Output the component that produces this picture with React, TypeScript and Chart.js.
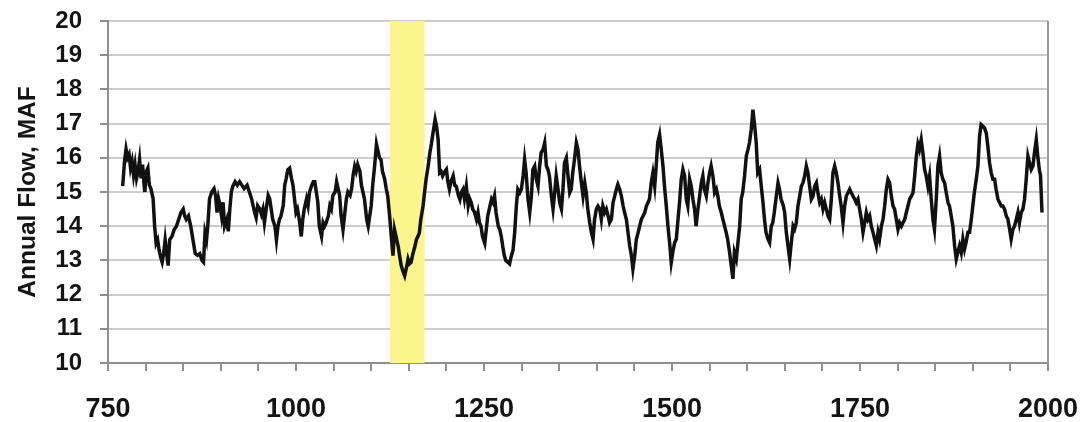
import React, { useEffect, useRef } from 'react';
import { Chart, registerables } from 'chart.js';

Chart.register(...registerables);

// Years (x) and annual flow in million acre-feet (y)
const YEARS: number[] = [
  769.5, 772, 774, 776, 778, 780, 782, 784, 786, 788, 790, 792, 794, 796, 798, 799, 801, 803, 805, 807,
  810, 812, 814, 816, 818, 820, 822, 824, 826, 828, 830, 832, 835, 838, 841, 844, 847, 850, 852, 854,
  857, 860, 863, 866, 869, 872, 875, 877, 879, 881, 883, 885, 888, 891, 893, 895, 897, 899, 901, 903,
  905, 908, 910, 912, 914, 916, 919, 922, 925, 928,
  931, 935, 938, 941, 945, 947, 949, 952, 954, 956, 958, 961, 963, 965, 967, 969, 972, 974, 976, 978,
  980, 983, 985, 987, 989, 991.5, 994, 996, 998, 1000, 1002, 1005, 1007, 1009, 1011, 1014, 1016, 1018, 1021, 1023,
  1025, 1027, 1029, 1031, 1034, 1036, 1038, 1040, 1043, 1045, 1047, 1049, 1052, 1054, 1056, 1058, 1060, 1062.5, 1065, 1067,
  1069, 1072, 1074, 1076, 1078, 1080, 1082, 1085, 1087, 1089, 1091, 1094, 1096, 1098, 1100, 1102, 1104.5, 1107,
  1109, 1111, 1113, 1115, 1118, 1120, 1122, 1124.5, 1127, 1129, 1131, 1134, 1136, 1138, 1140, 1142, 1144.5, 1147, 1149, 1151,
  1153, 1155.5, 1158, 1160, 1162, 1164, 1166, 1169, 1171, 1173, 1176, 1178, 1180, 1182, 1185, 1187, 1189, 1191, 1193, 1195,
  1198, 1200, 1202, 1204, 1206, 1209, 1211, 1213, 1216, 1218, 1220, 1222, 1224, 1226.5, 1229, 1231, 1233, 1235, 1237.5, 1240,
  1242, 1244, 1246, 1248, 1251, 1253, 1255, 1258, 1260, 1262, 1264, 1266, 1269, 1271, 1273, 1275, 1277, 1279, 1282, 1284, 1286,
  1288.6, 1290.8, 1293, 1295, 1297.5, 1299.7, 1302, 1304, 1306, 1308.5, 1310.8, 1313, 1315, 1317.4, 1319.6, 1321.8, 1324, 1326, 1328.5, 1330.7,
  1333, 1335, 1337, 1339.6, 1341.8, 1344, 1346, 1348.4, 1350.7, 1353, 1355, 1357, 1359.5, 1361.7, 1364, 1366, 1368, 1370.6, 1372.8, 1375,
  1377, 1379.5, 1381.7, 1384, 1386, 1388, 1390.6, 1392.8, 1395, 1397, 1399.4, 1401.6, 1403.9, 1406, 1408, 1410.5, 1412.7, 1415, 1417, 1419.4,
  1421.6, 1423.8, 1426, 1428, 1430.4, 1432.7, 1435, 1437, 1439.3, 1441.5, 1443.7, 1446, 1448, 1450.4, 1452.6, 1455, 1457, 1459.3, 1461.5, 1463.7, 1466,
  1470, 1472.4, 1474.6, 1477, 1479, 1481, 1483.5, 1485.7, 1488, 1490, 1492.4, 1494.6, 1496.8, 1499, 1501, 1503.5, 1505.7, 1508, 1510, 1512.3,
  1514.5, 1516.8, 1519, 1521, 1523.4, 1525.6, 1527.8, 1530, 1532, 1534.5, 1536.7, 1539, 1541, 1543, 1545.6, 1547.8, 1550, 1552, 1554.4, 1556.7,
  1559, 1561, 1563, 1565.5, 1567.7, 1570, 1572, 1574, 1576.6, 1578.8, 1581, 1583, 1585.5, 1587.7, 1590, 1592, 1594, 1596.5, 1598.8, 1601,
  1603, 1605.4, 1607.6, 1610, 1612, 1614, 1616.5, 1618.7, 1621, 1623, 1625, 1627.6, 1629.8, 1632, 1634, 1636, 1638.7, 1641, 1643, 1645,
  1648, 1649.8, 1652, 1654.2, 1656.5, 1658.7, 1661, 1663, 1665.3, 1667.5, 1669.8, 1672, 1674.2, 1676.4, 1678.6, 1680.8, 1683, 1685.3, 1687.5, 1689.7,
  1692, 1694, 1696.4, 1698.6, 1700.8, 1703, 1705.2, 1707.4, 1709.7, 1711.9, 1714, 1716.3, 1718.5, 1720.7, 1723, 1725, 1727.4, 1729.6, 1731.8, 1734,
  1736.3, 1738.5, 1740.7, 1743, 1745, 1747.3, 1749.5, 1751.8, 1754, 1756.2, 1758.4, 1760.6, 1762.9, 1765, 1767.3, 1769.5, 1771.7, 1774, 1776, 1778.4,
  1780.6, 1782.8, 1785, 1787.2, 1789.4, 1791.7, 1793.9, 1796, 1798.3, 1800.5, 1802.7, 1805, 1807.2, 1809.4, 1811.6, 1813.8, 1816, 1818.3, 1820.5, 1822.7, 1824.9,
  1827, 1829, 1831.4, 1833.6, 1835.9, 1838, 1840.3, 1842.5, 1844.7, 1847, 1849, 1851.4, 1853.6, 1855.8, 1858, 1860.2, 1862.5, 1864.7, 1867, 1869,
  1871.3, 1873.5, 1875.8, 1878, 1880, 1882.4, 1884.6, 1886.8, 1889, 1891, 1893.5, 1895.7, 1898, 1900, 1902, 1904.6, 1906.8, 1909, 1911, 1913.4,
  1915.6, 1917.9, 1920, 1922.3, 1924.5, 1926.7, 1929, 1931, 1933.4, 1935.6, 1937.8, 1940, 1942.2, 1944.5, 1946.7, 1949, 1951, 1953.3, 1955.5, 1957.8,
  1960, 1962, 1964.4, 1966.6, 1968.8, 1971, 1973.3, 1975.5, 1977.7, 1980, 1982, 1984.4, 1986.6, 1988.8, 1990, 1992,
];

const FLOW: number[] = [
  15.17, 15.9, 16.25, 16.0, 16.1, 15.7, 15.9, 15.5, 15.8, 15.4, 15.6, 15.95, 15.4, 15.8, 15.2, 15.0, 15.6, 15.7, 15.2, 15.1,
  14.8, 14.0, 13.5, 13.6, 13.3, 13.1, 12.95, 13.2, 13.6, 13.2, 12.85, 13.6, 13.7, 13.9, 14.0, 14.2, 14.4, 14.5, 14.3, 14.2,
  14.3, 14.0, 13.6, 13.2, 13.15, 13.2, 13.0, 12.95, 13.8, 13.6, 14.1, 14.8, 15.0, 15.1, 14.9, 14.4, 14.8, 14.6, 14.3, 14.7,
  14.0, 14.2, 13.85, 14.5, 15.0, 15.17, 15.3, 15.2, 15.3, 15.2,
  15.1, 15.2, 15.0, 14.8, 14.4, 14.25, 14.6, 14.5, 14.35, 14.5, 14.1, 14.6, 14.9, 14.8, 14.5, 14.2, 14.0, 13.6, 14.0, 14.2,
  14.3, 14.6, 15.2, 15.4, 15.65, 15.7, 15.4, 15.2, 14.8, 14.4, 14.5, 14.1, 13.7, 14.2, 14.5, 14.8, 14.6, 15.0, 15.2, 15.3,
  15.3, 15.0, 14.7, 14.0, 13.7, 14.1, 14.0, 14.1, 14.3, 14.6, 14.5, 14.9, 15.0, 15.3, 15.1, 14.9, 14.3, 13.9, 14.4, 14.8,
  15.0, 14.9, 15.1, 15.5, 15.75, 15.6, 15.8, 15.6, 15.2, 15.0, 14.8, 14.2, 14.0, 14.3, 14.6, 15.2, 15.75, 16.4,
  16.2, 16.0, 15.95, 15.6, 15.37, 15.1, 14.88, 14.3, 13.62, 13.14, 13.9, 13.6, 13.4, 13.1, 12.84, 12.7, 12.55, 12.8, 13.04, 12.9,
  12.94, 13.2, 13.4, 13.6, 13.7, 13.8, 14.2, 14.6, 15.0, 15.37, 15.8, 16.15, 16.4, 16.7, 17.12, 16.9, 16.53, 15.56, 15.6, 15.47,
  15.6, 15.66, 15.3, 15.08, 15.3, 15.47, 15.2, 15.17, 14.9, 14.78, 15.0, 15.08, 14.8, 15.17, 14.59, 14.8, 14.69, 14.5, 14.4, 14.2,
  14.4, 14.1, 14.0, 13.7, 13.5, 13.9, 14.3, 14.6, 14.79, 14.7, 14.88, 14.4, 14.0, 13.9, 13.7, 13.4, 13.14, 13.0, 12.94, 12.9, 13.1,
  13.3, 13.82, 14.59, 15.08, 14.98, 15.08, 15.47, 15.95, 15.56, 14.79, 14.4, 14.88, 15.66, 15.76, 15.37, 15.17, 15.76, 16.15, 16.24, 16.44,
  15.76, 15.66, 15.47, 14.88, 14.5, 14.98, 15.47, 15.08, 14.69, 14.5, 15.08, 15.85, 16.0, 15.47, 14.98, 15.08, 15.56, 16.0, 16.44, 16.24,
  15.76, 15.27, 14.88, 15.27, 14.98, 14.5, 14.1, 13.82, 13.62, 14.2, 14.5, 14.59, 14.5, 14.2, 14.59, 14.4, 14.5, 14.3, 14.1, 14.2,
  14.69, 14.88, 15.08, 15.22, 15.08, 14.88, 14.59, 14.4, 14.2, 13.82, 13.43, 13.14, 12.75, 13.14, 13.62, 13.82, 14.0, 14.2, 14.3, 14.4, 14.59,
  14.79, 15.27, 15.56, 15.17, 15.76, 16.44, 16.68, 16.24, 15.76, 15.17, 14.59, 14.0, 13.52, 12.94, 13.23, 13.52, 13.62, 14.2, 14.69, 15.37,
  15.66, 15.47, 14.79, 14.59, 15.37, 15.17, 14.79, 14.5, 14.0, 14.5, 14.88, 15.27, 15.47, 15.08, 14.88, 15.27, 15.56, 15.76, 15.47, 14.98,
  15.08, 14.88, 14.59, 14.4, 14.2, 14.0, 13.82, 13.62, 13.23, 12.84, 12.46, 13.23, 13.04, 13.52, 14.0, 14.79, 14.98, 15.47, 16.05, 16.24,
  16.44, 16.83, 17.41, 16.92, 16.44, 15.56, 15.66, 15.17, 14.69, 14.2, 13.82, 13.62, 13.52, 14.0, 14.1, 14.4, 14.88, 15.27, 15.08, 14.79,
  14.6, 14.4, 13.82, 13.43, 13.04, 13.52, 14.0, 13.91, 14.1, 14.59, 14.88, 15.17, 15.27, 15.47, 15.76, 15.56, 15.17, 14.79, 14.88, 15.17,
  15.27, 14.98, 14.69, 14.79, 14.5, 14.69, 14.5, 14.3, 14.2, 14.79, 15.56, 15.76, 15.56, 15.27, 14.88, 14.59, 14.1, 14.59, 14.88, 14.98,
  15.08, 14.98, 14.88, 14.79, 14.69, 14.79, 14.5, 14.2, 13.82, 14.1, 14.4, 14.2, 14.3, 14.0, 13.82, 13.62, 13.43, 13.82, 13.62, 14.0,
  14.2, 14.59, 15.08, 15.37, 15.27, 14.88, 14.59, 14.5, 14.2, 13.91, 14.1, 14.0, 14.1, 14.2, 14.4, 14.59, 14.79, 14.88, 14.98, 15.47, 16.05,
  16.4, 16.24, 16.53, 16.15, 15.66, 15.47, 15.17, 15.47, 14.79, 14.2, 13.91, 14.79, 15.76, 16.05, 15.56, 15.37, 15.27, 14.98, 14.69, 14.59,
  14.3, 14.0, 13.43, 13.04, 13.23, 13.43, 13.23, 13.62, 13.33, 13.52, 13.82, 13.82, 14.2, 14.59, 14.98, 15.37, 15.76, 16.63, 16.97, 16.92,
  16.87, 16.73, 16.34, 15.85, 15.56, 15.37, 15.37, 15.08, 14.79, 14.69, 14.59, 14.59, 14.5, 14.3, 14.2, 13.91, 13.62, 13.91, 14.0, 14.2,
  14.4, 14.1, 14.4, 14.5, 14.79, 15.37, 16.05, 15.85, 15.66, 15.76, 16.15, 16.53, 16.0, 15.6, 15.5, 14.4,
];

const X_MIN = 750;
const X_MAX = 2000;
const X_LABEL_STEP = 250;
const X_TICK_STEP = 50;
const Y_MIN = 10;
const Y_MAX = 20;
const Y_TITLE = 'Annual Flow, MAF';
const BAND_START = 1125;
const BAND_END = 1171;

const FONT = '"Liberation Sans", Arial, Helvetica, sans-serif';

function zeroPadding(s: any) {
  s.paddingTop = 0;
  s.paddingBottom = 0;
  s.paddingLeft = 0;
  s.paddingRight = 0;
}

export default function App() {
  const canvasRef = useRef<HTMLCanvasElement | null>(null);

  useEffect(() => {
    const canvas = canvasRef.current;
    if (!canvas) return;

    const bandPlugin = {
      id: 'droughtBand',
      beforeDatasetsDraw(chart: any) {
        const { ctx, chartArea, scales } = chart;
        const x0 = scales.x.getPixelForValue(BAND_START);
        const x1 = scales.x.getPixelForValue(BAND_END);
        ctx.save();
        ctx.fillStyle = '#fcf48c';
        ctx.fillRect(x0, chartArea.top, x1 - x0, chartArea.bottom - chartArea.top);
        ctx.restore();
      },
    };

    const framePlugin = {
      id: 'rightFrame',
      beforeDatasetsDraw(chart: any) {
        const { ctx, chartArea } = chart;
        ctx.save();
        ctx.strokeStyle = '#9a9a9a';
        ctx.lineWidth = 2;
        ctx.beginPath();
        ctx.moveTo(chartArea.right, chartArea.top);
        ctx.lineTo(chartArea.right, chartArea.bottom);
        ctx.stroke();
        ctx.restore();
      },
    };

    const points = YEARS.map((x, i) => ({ x, y: FLOW[i] }));

    const chart = new Chart(canvas, {
      type: 'line',
      data: {
        datasets: [
          {
            data: points,
            borderColor: '#111111',
            borderWidth: 3.5,
            pointRadius: 0,
            tension: 0,
            fill: false,
            borderJoinStyle: 'miter',
          },
        ],
      },
      options: {
        animation: false,
        responsive: false,
        maintainAspectRatio: false,
        layout: { padding: { top: 21, right: 34, left: 0, bottom: 0 } },
        plugins: {
          legend: { display: false },
          tooltip: { enabled: false },
        },
        scales: {
          x: {
            type: 'linear',
            min: X_MIN,
            max: X_MAX,
            afterFit: (s: any) => {
              s.height = 59;
              zeroPadding(s);
            },
            ticks: {
              stepSize: X_TICK_STEP,
              autoSkip: false,
              maxRotation: 0,
              minRotation: 0,
              padding: 22,
              color: '#141414',
              font: { family: FONT, size: 27, weight: 'bold' },
              callback: (v: any) => (Number(v) % X_LABEL_STEP === 0 ? String(v) : ''),
            },
            grid: {
              drawOnChartArea: false,
              drawTicks: true,
              tickLength: 8,
              color: '#8f8f8f',
              lineWidth: 2,
            },
            border: { display: true, color: '#8f8f8f', width: 2 },
          },
          y: {
            type: 'linear',
            min: Y_MIN,
            max: Y_MAX,
            afterFit: (s: any) => {
              s.width = 108;
              zeroPadding(s);
            },
            ticks: {
              stepSize: 1,
              padding: 18,
              color: '#141414',
              font: { family: FONT, size: 24, weight: 'bold' },
            },
            grid: {
              color: '#cdcdcd',
              lineWidth: 2,
              drawTicks: true,
              tickLength: 8,
              tickColor: '#8f8f8f',
            },
            border: { display: true, color: '#8f8f8f', width: 2 },
            title: {
              display: true,
              text: Y_TITLE,
              color: '#141414',
              font: { family: FONT, size: 24.5, weight: 'bold' },
              padding: { top: 14, bottom: 0 },
            },
          },
        },
      },
      plugins: [bandPlugin, framePlugin],
    });

    return () => chart.destroy();
  }, []);

  return (
    <div style={{ position: 'fixed', left: 0, top: 0, width: 1082, height: 422, background: '#fff' }}>
      <canvas ref={canvasRef} width={1082} height={422} style={{ display: 'block' }} />
    </div>
  );
}
